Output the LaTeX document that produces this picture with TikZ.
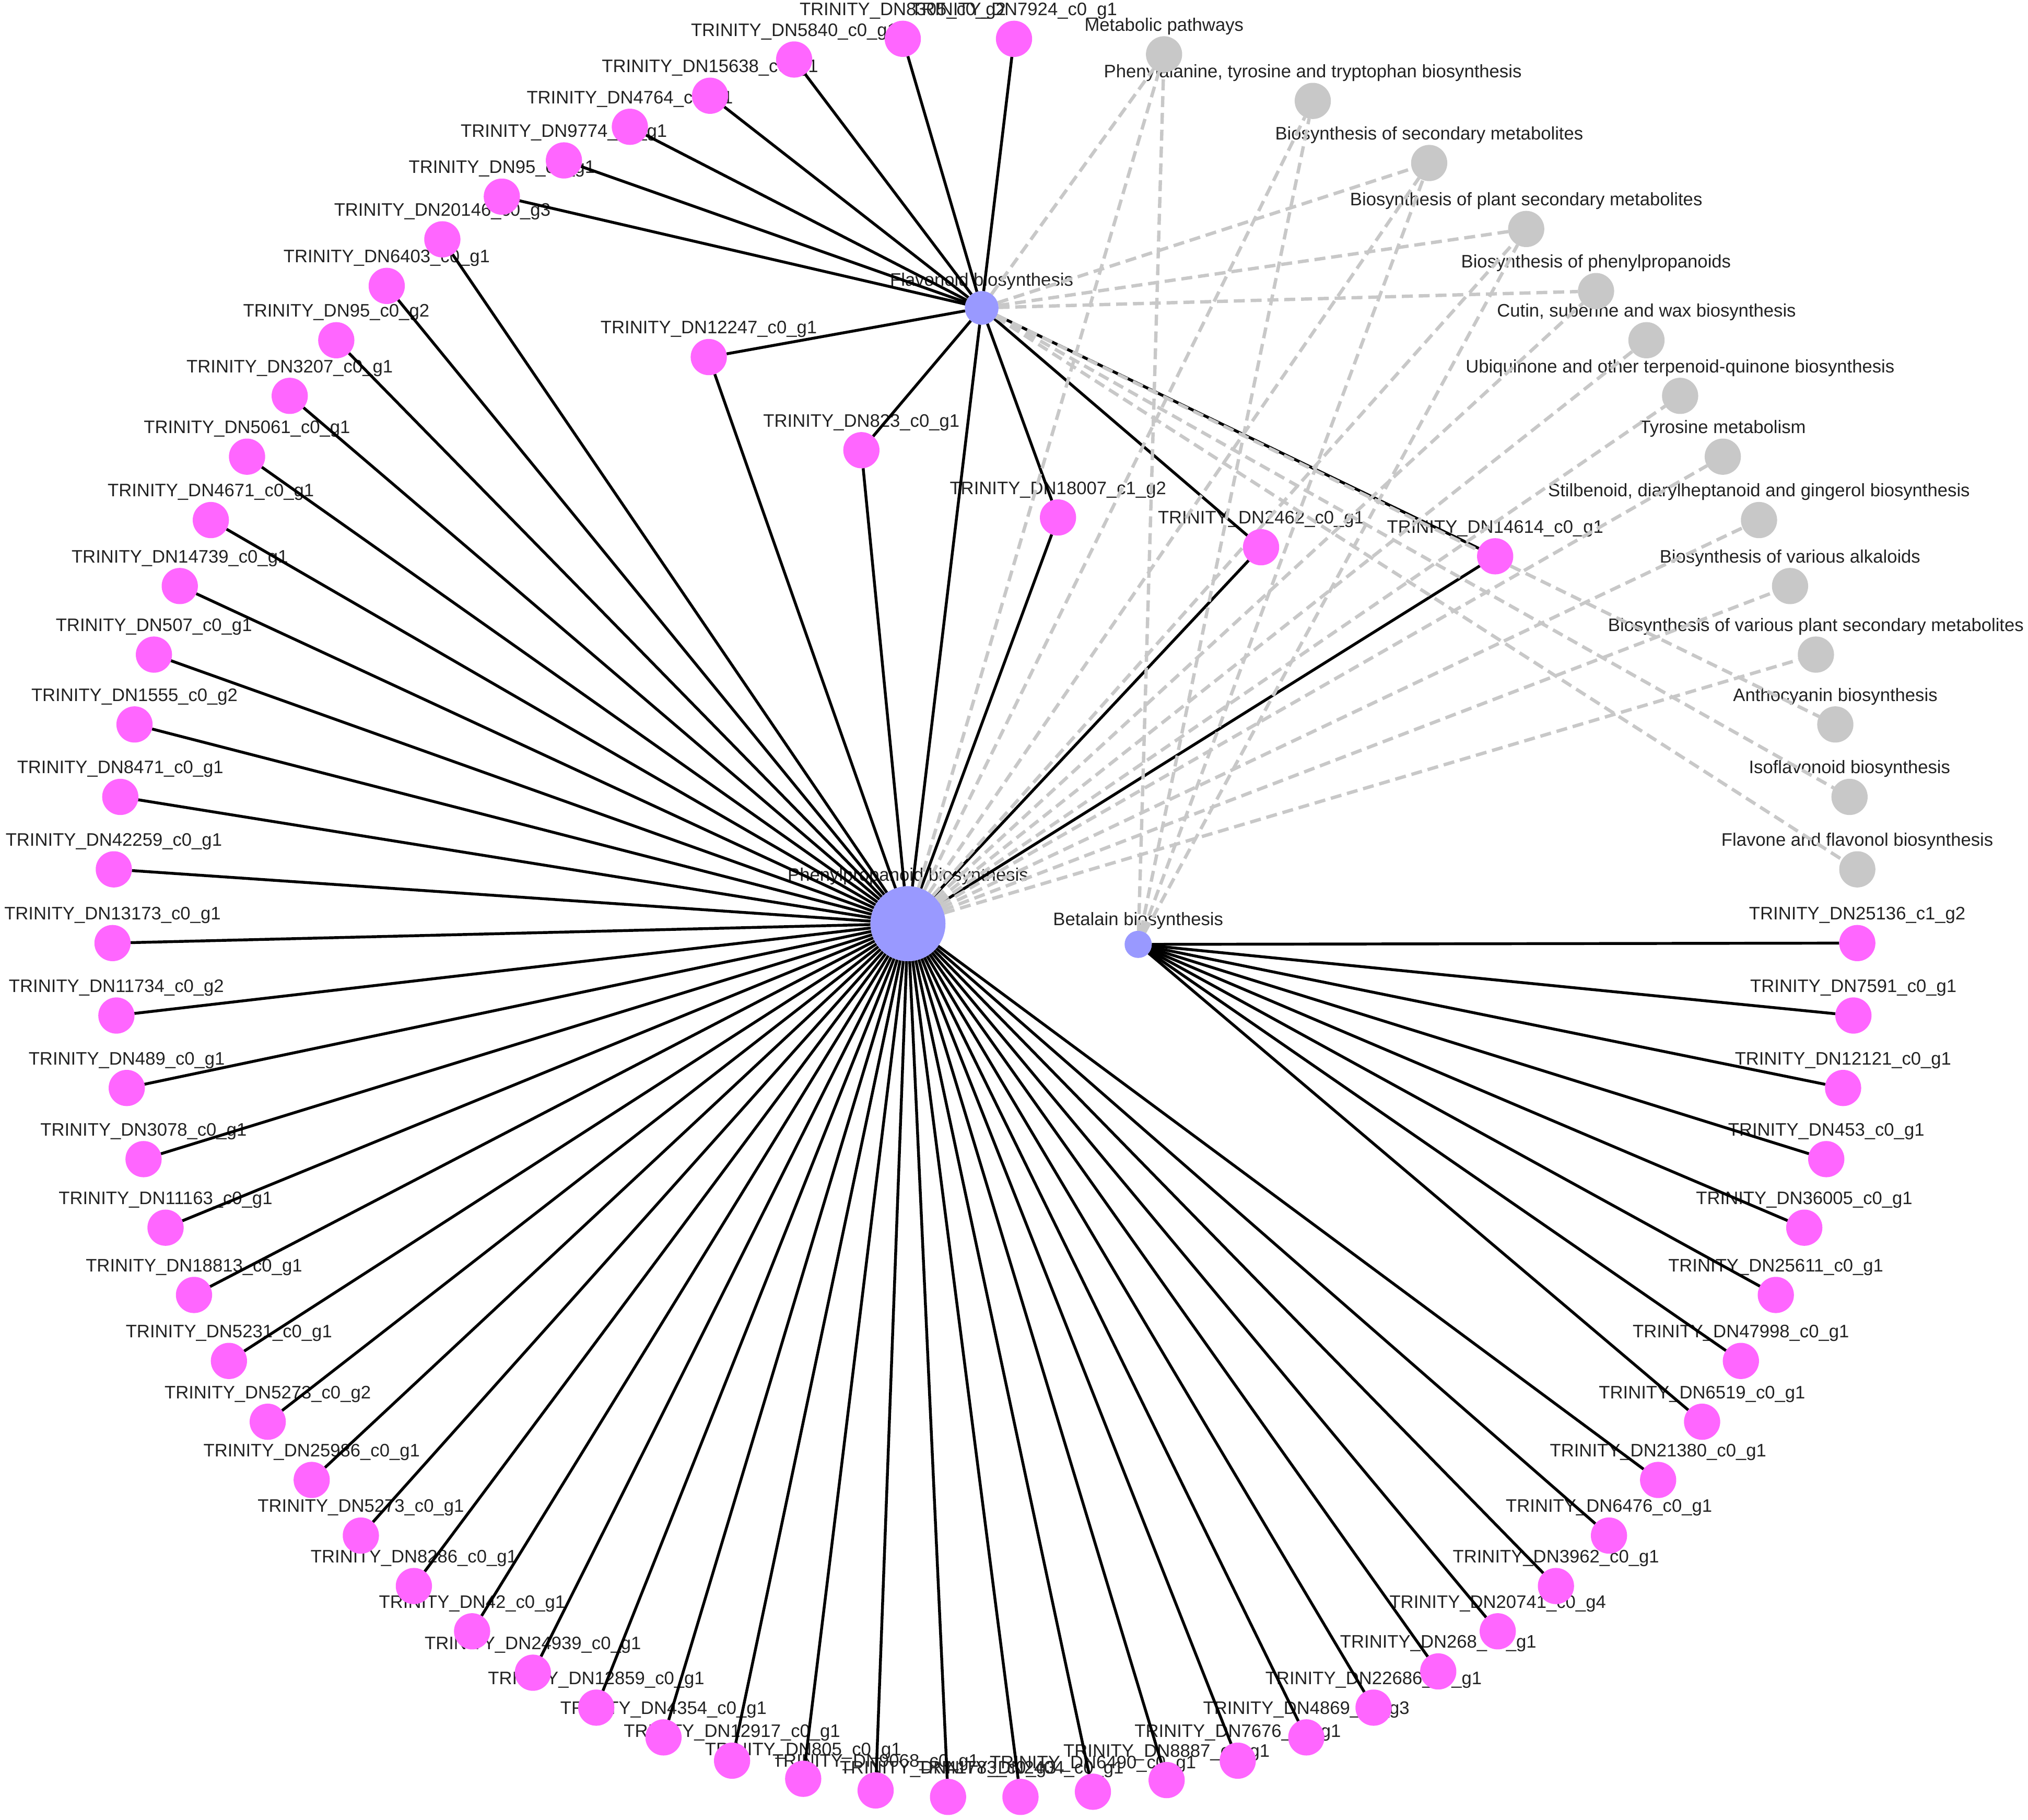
\documentclass[tikz,border=0pt]{standalone}
\usepackage{fontspec}
\setmainfont{Liberation Sans}
\definecolor{pinkc}{HTML}{FF66FF}
\definecolor{lavc}{HTML}{9999FF}
\definecolor{grayc}{HTML}{C8C8C8}
\definecolor{dgray}{HTML}{C8C8C8}
\definecolor{txtc}{HTML}{222222}
\pgfdeclarelayer{lab}
\pgfdeclarelayer{blk}
\pgfdeclarelayer{dsh}
\pgfsetlayers{lab,blk,dsh,main}
\tikzset{
  gene/.style={circle, fill=pinkc, minimum size=28pt, inner sep=0pt, outer sep=0pt},
  pway/.style={circle, fill=grayc, minimum size=28pt, inner sep=0pt, outer sep=0pt},
  hubn/.style={circle, fill=lavc, inner sep=0pt, outer sep=0pt},
  lbl/.style={anchor=base, inner sep=0pt, font=\fontsize{14}{16}\selectfont, text=txtc},
  blkedge/.style={draw=black, line width=2.2pt},
  dshedge/.style={draw=dgray, line width=2.6pt, dash pattern=on 8.5pt off 4.5pt}
}
\newcommand\netnode[6]{%
  \node[#1] (#2) at (#3,#4) {};
  \begin{pgfonlayer}{lab}\node[lbl] (#2-l) at (#3,#4-#5) {#6};\end{pgfonlayer}}
\begin{document}
\begin{tikzpicture}[x=1pt,y=-1pt]
\path[use as bounding box] (0,0) rectangle (1568,1406.5);
% hubs
\netnode{hubn,minimum size=58pt}{PP}{702}{714}{33}{Phenylpropanoid biosynthesis}
\netnode{hubn,minimum size=26pt}{FL}{759}{238}{17}{Flavonoid biosynthesis}
\netnode{hubn,minimum size=21pt}{BE}{880}{730}{14.5}{Betalain biosynthesis}
% pathway nodes
\netnode{pway}{G1}{900}{42}{18}{Metabolic pathways}
\netnode{pway}{G2}{1015}{78}{18}{Phenylalanine, tyrosine and tryptophan biosynthesis}
\netnode{pway}{G3}{1105}{126}{18}{Biosynthesis of secondary metabolites}
\netnode{pway}{G4}{1180}{177}{18}{Biosynthesis of plant secondary metabolites}
\netnode{pway}{G5}{1234}{225}{18}{Biosynthesis of phenylpropanoids}
\netnode{pway}{G6}{1273}{263}{18}{Cutin, suberine and wax biosynthesis}
\netnode{pway}{G7}{1299}{306}{18}{Ubiquinone and other terpenoid-quinone biosynthesis}
\netnode{pway}{G8}{1332}{353}{18}{Tyrosine metabolism}
\netnode{pway}{G9}{1360}{402}{18}{Stilbenoid, diarylheptanoid and gingerol biosynthesis}
\netnode{pway}{G10}{1384}{453}{18}{Biosynthesis of various alkaloids}
\netnode{pway}{G11}{1404}{506}{18}{Biosynthesis of various plant secondary metabolites}
\netnode{pway}{G12}{1419}{560}{18}{Anthocyanin biosynthesis}
\netnode{pway}{G13}{1430}{616}{18}{Isoflavonoid biosynthesis}
\netnode{pway}{G14}{1436}{672}{18}{Flavone and flavonol biosynthesis}
% top genes (flavonoid)
\foreach \n/\x/\y/\t in {
 T1/698/30/8305\_c0\_g2, T2/784/30/7924\_c0\_g1, T3/614/46/5840\_c0\_g1,
 T4/549/74/15638\_c0\_g1, T5/487/98/4764\_c0\_g1, T6/436/124/9774\_c0\_g1,
 T7/388/152/95\_c0\_g1}
 {\netnode{gene}{\n}{\x}{\y}{18}{TRINITY\_DN\t}}
% inner genes
\foreach \n/\x/\y/\t in {
 I1/548/276/12247\_c0\_g1, I2/666/348/823\_c0\_g1, I3/818/400/18007\_c1\_g2,
 I4/975/423/2462\_c0\_g1, I5/1156/430/14614\_c0\_g1}
 {\netnode{gene}{\n}{\x}{\y}{18}{TRINITY\_DN\t}}
% ring genes (phenylpropanoid)
\foreach \n/\x/\y/\t in {
 L1/342/185/20146\_c0\_g3, L2/299/221/6403\_c0\_g1, L3/260/263/95\_c0\_g2,
 L4/224/306/3207\_c0\_g1, L5/191/353/5061\_c0\_g1, L6/163/402/4671\_c0\_g1,
 L7/139/453/14739\_c0\_g1, L8/119/506/507\_c0\_g1, L9/104/560/1555\_c0\_g2,
 L10/93/616/8471\_c0\_g1, L11/88/672/42259\_c0\_g1, L12/87/729/13173\_c0\_g1,
 L13/90/785/11734\_c0\_g2, L14/98/841/489\_c0\_g1, L15/111/896/3078\_c0\_g1,
 L16/128/949/11163\_c0\_g1, L17/150/1001/18813\_c0\_g1, L18/177/1052/5231\_c0\_g1,
 L19/207/1099/5273\_c0\_g2, L20/241/1144/25986\_c0\_g1, L21/279/1187/5273\_c0\_g1,
 L22/320/1226/8286\_c0\_g1, L23/365/1261/42\_c0\_g1, L24/412/1293/24939\_c0\_g1,
 L25/461/1320/12859\_c0\_g1, L26/513/1343/4354\_c0\_g1, L27/566/1361/12917\_c0\_g1,
 L28/621/1375/805\_c0\_g1, L29/677/1384/9068\_c0\_g1, L30/733/1389/41783\_c0\_g3,
 L31/789/1389/2404\_c0\_g1, L32/845/1385/6490\_c0\_g1, L33/902/1376/8887\_c0\_g1,
 L34/957/1361/7676\_c0\_g1, L35/1010/1343/4869\_c0\_g3, L36/1062/1320/22686\_c0\_g1,
 L37/1112/1292/268\_c0\_g1, L38/1158/1261/20741\_c0\_g4, L39/1203/1226/3962\_c0\_g1,
 L40/1244/1187/6476\_c0\_g1, L41/1282/1144/21380\_c0\_g1}
 {\netnode{gene}{\n}{\x}{\y}{18}{TRINITY\_DN\t}}
% right genes (betalain)
\foreach \n/\x/\y/\t in {
 R1/1316/1099/6519\_c0\_g1, R2/1346/1052/47998\_c0\_g1, R3/1373/1001/25611\_c0\_g1,
 R4/1395/949/36005\_c0\_g1, R5/1412/896/453\_c0\_g1, R6/1425/841/12121\_c0\_g1,
 R7/1433/785/7591\_c0\_g1, R8/1436/729/25136\_c1\_g2}
 {\netnode{gene}{\n}{\x}{\y}{18}{TRINITY\_DN\t}}
% black edges
\begin{pgfonlayer}{blk}
\foreach \i in {1,...,41} \draw[blkedge] (PP) -- (L\i);
\foreach \i in {1,...,8} \draw[blkedge] (BE) -- (R\i);
\foreach \i in {1,...,7} \draw[blkedge] (FL) -- (T\i);
\foreach \i in {1,...,5} {\draw[blkedge] (FL) -- (I\i); \draw[blkedge] (PP) -- (I\i);}
\draw[blkedge] (FL) -- (PP);
\end{pgfonlayer}
% dashed pathway edges
\begin{pgfonlayer}{dsh}
\foreach \g in {1,3,4,5,12,13,14} \draw[dshedge] (FL) -- (G\g);
\foreach \g in {1,...,11} \draw[dshedge] (PP) -- (G\g);
\foreach \g in {1,2,3,4} \draw[dshedge] (BE) -- (G\g);
\end{pgfonlayer}
\end{tikzpicture}
\end{document}
